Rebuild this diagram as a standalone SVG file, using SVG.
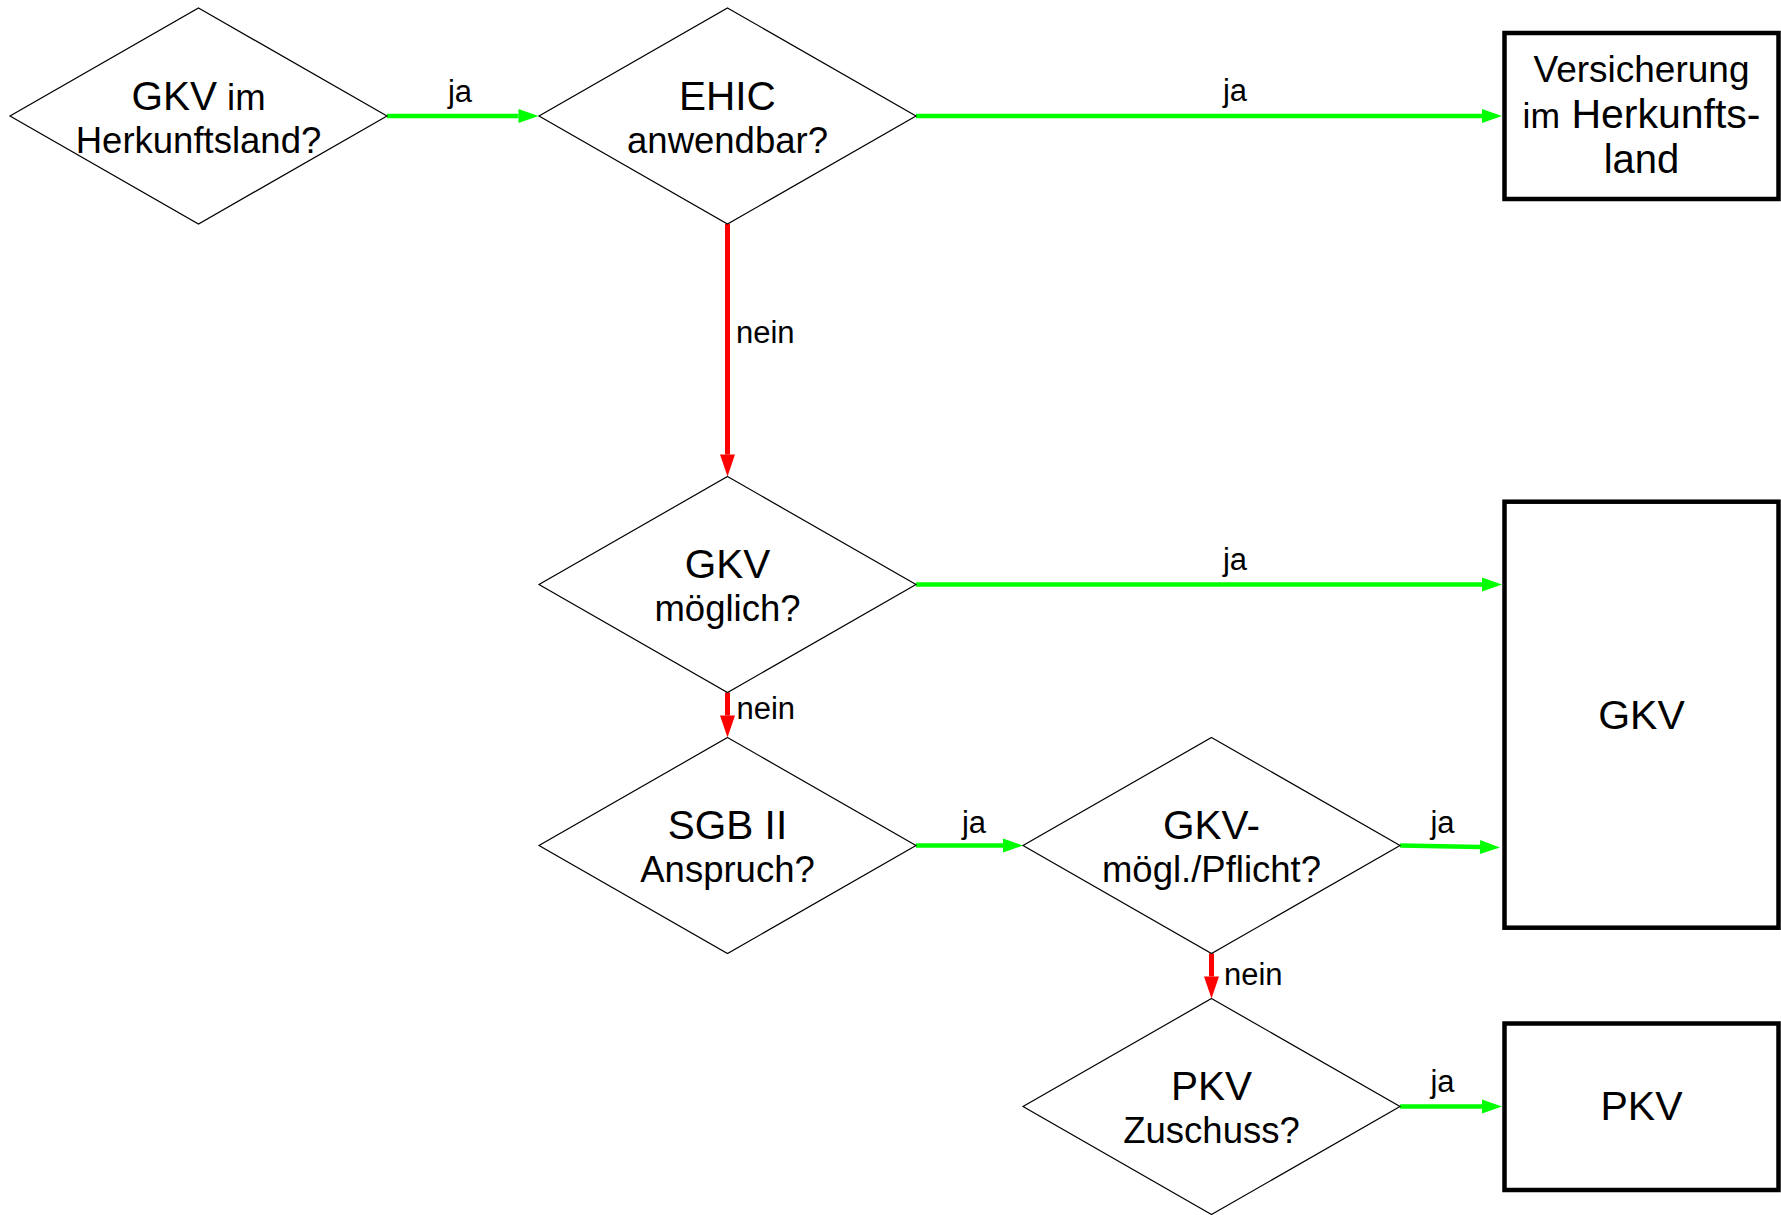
<svg xmlns="http://www.w3.org/2000/svg" width="1781" height="1215" viewBox="0 0 1781 1215">
  <style>
    text { font-family: "Liberation Sans", Arial, sans-serif; fill: #000; }
    .dia { fill: #fff; stroke: #000; stroke-width: 1.2; }
    .box { fill: #fff; stroke: #000; stroke-width: 4.5; }
    .t1 { font-size: 40.5px; text-anchor: middle; }
    .t2 { font-size: 36.5px; text-anchor: middle; }
    .tb { font-size: 41px; text-anchor: middle; }
    .lbl { font-size: 31px; }
    .mid { text-anchor: middle; }
    .yes { stroke: #00ff00; stroke-width: 4.5; fill: none; marker-end: url(#headYes); }
    .no { stroke: #ff0000; stroke-width: 5; fill: none; marker-end: url(#headNo); }
  </style>
  <defs>
    <marker id="headYes" markerUnits="userSpaceOnUse" markerWidth="20" markerHeight="14" refX="0" refY="7" orient="auto" overflow="visible">
      <path d="M0,0 L20,7 L0,14 z" fill="#00ff00"/>
    </marker>
    <marker id="headNo" markerUnits="userSpaceOnUse" markerWidth="22" markerHeight="15" refX="0" refY="7.5" orient="auto" overflow="visible">
      <path d="M0,0 L22,7.5 L0,15 z" fill="#ff0000"/>
    </marker>
  </defs>
  <rect width="1781" height="1215" fill="#fff"/>

  <!-- connectors -->
  <g id="connectors">
    <path class="yes" d="M387,116 L518.5,116"/>
    <path class="yes" d="M916,116 L1482,116"/>
    <path class="no" d="M727.5,224 L727.5,454.5"/>
    <path class="yes" d="M916,584.5 L1482,584.5"/>
    <path class="no" d="M727.5,692.5 L727.5,715.5"/>
    <path class="yes" d="M916,845.5 L1003,845.5"/>
    <path class="yes" d="M1400,845.5 L1480,847.1"/>
    <path class="no" d="M1211.5,953.5 L1211.5,976.5"/>
    <path class="yes" d="M1400,1106.5 L1482,1106.5"/>

    <text class="lbl mid" x="460" y="101.5">ja</text>
    <text class="lbl mid" x="1235" y="101">ja</text>
    <text class="lbl" x="736" y="342.7">nein</text>
    <text class="lbl mid" x="1235" y="569.5">ja</text>
    <text class="lbl" x="736.5" y="719.3">nein</text>
    <text class="lbl mid" x="974" y="833.3">ja</text>
    <text class="lbl mid" x="1442.5" y="833.3">ja</text>
    <text class="lbl" x="1224" y="985">nein</text>
    <text class="lbl mid" x="1442.5" y="1092">ja</text>
  </g>

  <!-- decisions -->
  <g id="q-gkv-herkunft">
    <polygon class="dia" points="198.5,8 387,116 198.5,224 10,116"/>
    <text class="t1" x="198.5" y="109.5">GKV<tspan style="font-size:36.5px"> im</tspan></text>
    <text class="t2" x="198.5" y="152.5">Herkunftsland?</text>
  </g>
  <g id="q-ehic">
    <polygon class="dia" points="727.5,8 916,116 727.5,224 539,116"/>
    <text class="t1" x="727.5" y="109.5">EHIC</text>
    <text class="t2" x="727.5" y="152.5">anwendbar?</text>
  </g>
  <g id="q-gkv-moeglich">
    <polygon class="dia" points="727.5,476.5 916,584.5 727.5,692.5 539,584.5"/>
    <text class="t1" x="727.5" y="578">GKV</text>
    <text class="t2" x="727.5" y="621">möglich?</text>
  </g>
  <g id="q-sgb">
    <polygon class="dia" points="727.5,737.5 916,845.5 727.5,953.5 539,845.5"/>
    <text class="t1" x="727.5" y="839">SGB II</text>
    <text class="t2" x="727.5" y="882">Anspruch?</text>
  </g>
  <g id="q-gkv-pflicht">
    <polygon class="dia" points="1211.5,737.5 1400,845.5 1211.5,953.5 1023,845.5"/>
    <text class="t1" x="1211.5" y="839">GKV-</text>
    <text class="t2" x="1211.5" y="882">mögl./Pflicht?</text>
  </g>
  <g id="q-pkv">
    <polygon class="dia" points="1211.5,998.5 1400,1106.5 1211.5,1214.5 1023,1106.5"/>
    <text class="t1" x="1211.5" y="1100">PKV</text>
    <text class="t2" x="1211.5" y="1143">Zuschuss?</text>
  </g>

  <!-- outcomes -->
  <g id="r-herkunft">
    <rect class="box" x="1504.5" y="33" width="274" height="166"/>
    <text class="tb" x="1641.5" y="81.7" style="font-size:37px">Versicherung</text>
    <text class="tb" x="1641.5" y="128.3"><tspan style="font-size:35.5px">im</tspan> Herkunfts-</text>
    <text class="tb" x="1641.5" y="173.3" style="font-size:40px">land</text>
  </g>
  <g id="r-gkv">
    <rect class="box" x="1504.5" y="501.7" width="274" height="426"/>
    <text class="tb" x="1641.5" y="729.3">GKV</text>
  </g>
  <g id="r-pkv">
    <rect class="box" x="1504.5" y="1023.5" width="274" height="166.5"/>
    <text class="tb" x="1641.5" y="1120">PKV</text>
  </g>
</svg>
